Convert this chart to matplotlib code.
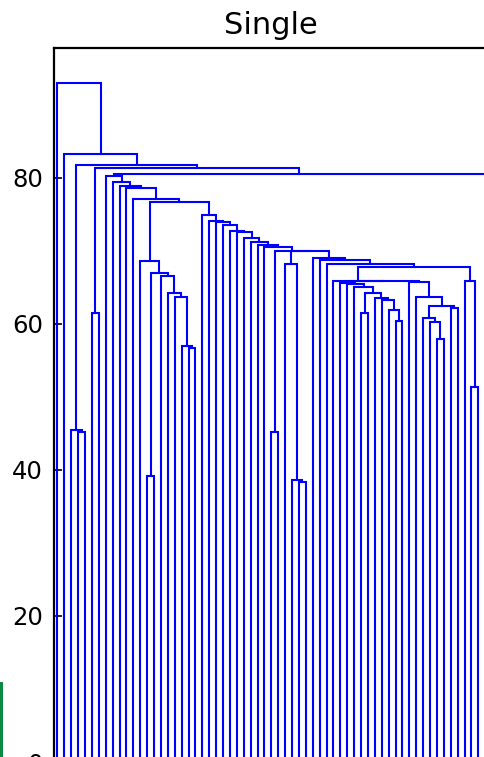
import matplotlib
matplotlib.use("Agg")
import matplotlib.pyplot as plt
from matplotlib.lines import Line2D

# ---- data -------------------------------------------------------------
title = "Single"
n_leaves = 63
y_ticks = [0, 20, 40, 60, 80]

# merges in display order: (name, left child, right child, height)
# integers are leaves (in display order), strings are earlier merges
merges = [
    ("P1", 3, 4, 45.27), ("P", 2, "P1", 45.48),
    ("Q", 5, 6, 61.55),
    ("M5b", 19, 20, 56.7), ("M5", 18, "M5b", 56.99), ("M4", 17, "M5", 63.74),
    ("M3", 16, "M4", 64.29), ("M2", 15, "M3", 66.58), ("MP", 13, 14, 39.18),
    ("M1", "MP", "M2", 66.95), ("Mt", 12, "M1", 68.63),
    ("T2", 35, 36, 38.32), ("T", 34, "T2", 38.63), ("S", 33, "T", 68.22),
    ("U", 31, 32, 45.25),
    ("P45", 44, 45, 61.55), ("P4950", 49, 50, 60.45), ("G4", 48, "P4950", 61.92),
    ("G3", 47, "G4", 63.29), ("G2", 46, "G3", 63.51), ("G1", "P45", "G2", 64.2),
    ("X1c", 43, "G1", 65.11), ("X1b", 42, "X1c", 65.45), ("X1", 41, "X1b", 65.55),
    ("A6", 55, 56, 57.9), ("A5", 54, "A6", 60.32), ("A3", 53, "A5", 60.78),
    ("A4", 57, 58, 62.15), ("A2", "A3", "A4", 62.47), ("V1", 52, "A2", 63.66),
    ("V0", 51, "V1", 65.79), ("Z2", "X1", "V0", 65.88), ("Z", 40, "Z2", 65.93),
    ("P6061", 60, 61, 51.41), ("W", 59, "P6061", 65.9),
    ("Y4", "Z", "W", 67.85), ("Y3", 39, "Y4", 68.22), ("Y2", 38, "Y3", 68.7),
    ("Y", 37, "Y2", 69.0), ("K2", "S", "Y", 69.95), ("K", "U", "K2", 70.04),
    ("j", 30, "K", 70.51), ("i", 29, "j", 70.82), ("h", 28, "i", 71.27),
    ("g", 27, "h", 71.74), ("f", 26, "g", 72.56), ("e", 25, "f", 72.78),
    ("d", 24, "e", 73.56), ("c", 23, "d", 74.01), ("b", 22, "c", 74.15),
    ("a", 21, "b", 74.93), ("L6", "Mt", "a", 76.75), ("L5", 11, "L6", 77.08),
    ("L4", 10, "L5", 78.59), ("L3", 9, "L4", 78.9), ("L2", 8, "L3", 79.49),
    ("L1", 7, "L2", 80.27), ("D", "L1", 62, 80.51), ("C", "Q", "D", 81.3),
    ("B", "P", "C", 81.71), ("A", 1, "B", 83.22), ("R", 0, "A", 92.97),
]

# ---- figure -----------------------------------------------------------
W, H = 484, 757
fig = plt.figure(figsize=(W / 100, H / 100), dpi=100)
ax_left, ax_right, ax_top, ax_bottom = 54.0, 488.7, 48.0, 762.0
ax = fig.add_axes([ax_left / W, (H - ax_bottom) / H,
                   (ax_right - ax_left) / W, (ax_bottom - ax_top) / H])

pos = {}
hgt = {}


def node_xy(k):
    if isinstance(k, int):
        return 5 + 10 * k, 0.0
    return pos[k], hgt[k]


for name, l, r, h in merges:
    xl, hl = node_xy(l)
    xr, hr = node_xy(r)
    ax.plot([xl, xl, xr, xr], [hl, h, h, hr], color="#0000ff", lw=1.5,
            solid_joinstyle="miter")
    pos[name] = (xl + xr) / 2
    hgt[name] = h

max_h = max(m[3] for m in merges)
ax.set_xlim(0, 10 * n_leaves)
ax.set_ylim(0, max_h * 1.052)
ax.set_yticks(y_ticks)
ax.set_xticks([])
ax.tick_params(axis="y", direction="in", length=6, width=1.2,
               labelsize=17.5, pad=8)
for s in ax.spines.values():
    s.set_linewidth(1.6)
ax.set_title(title, fontsize=22, pad=10)

# fragment of a neighbouring panel at the left edge
fig.add_artist(Line2D([0.6 / W, 0.6 / W], [0, (H - 683) / H],
                      transform=fig.transFigure, color="#0a8a45", lw=2.2))

fig.savefig("out.png", dpi=100)
